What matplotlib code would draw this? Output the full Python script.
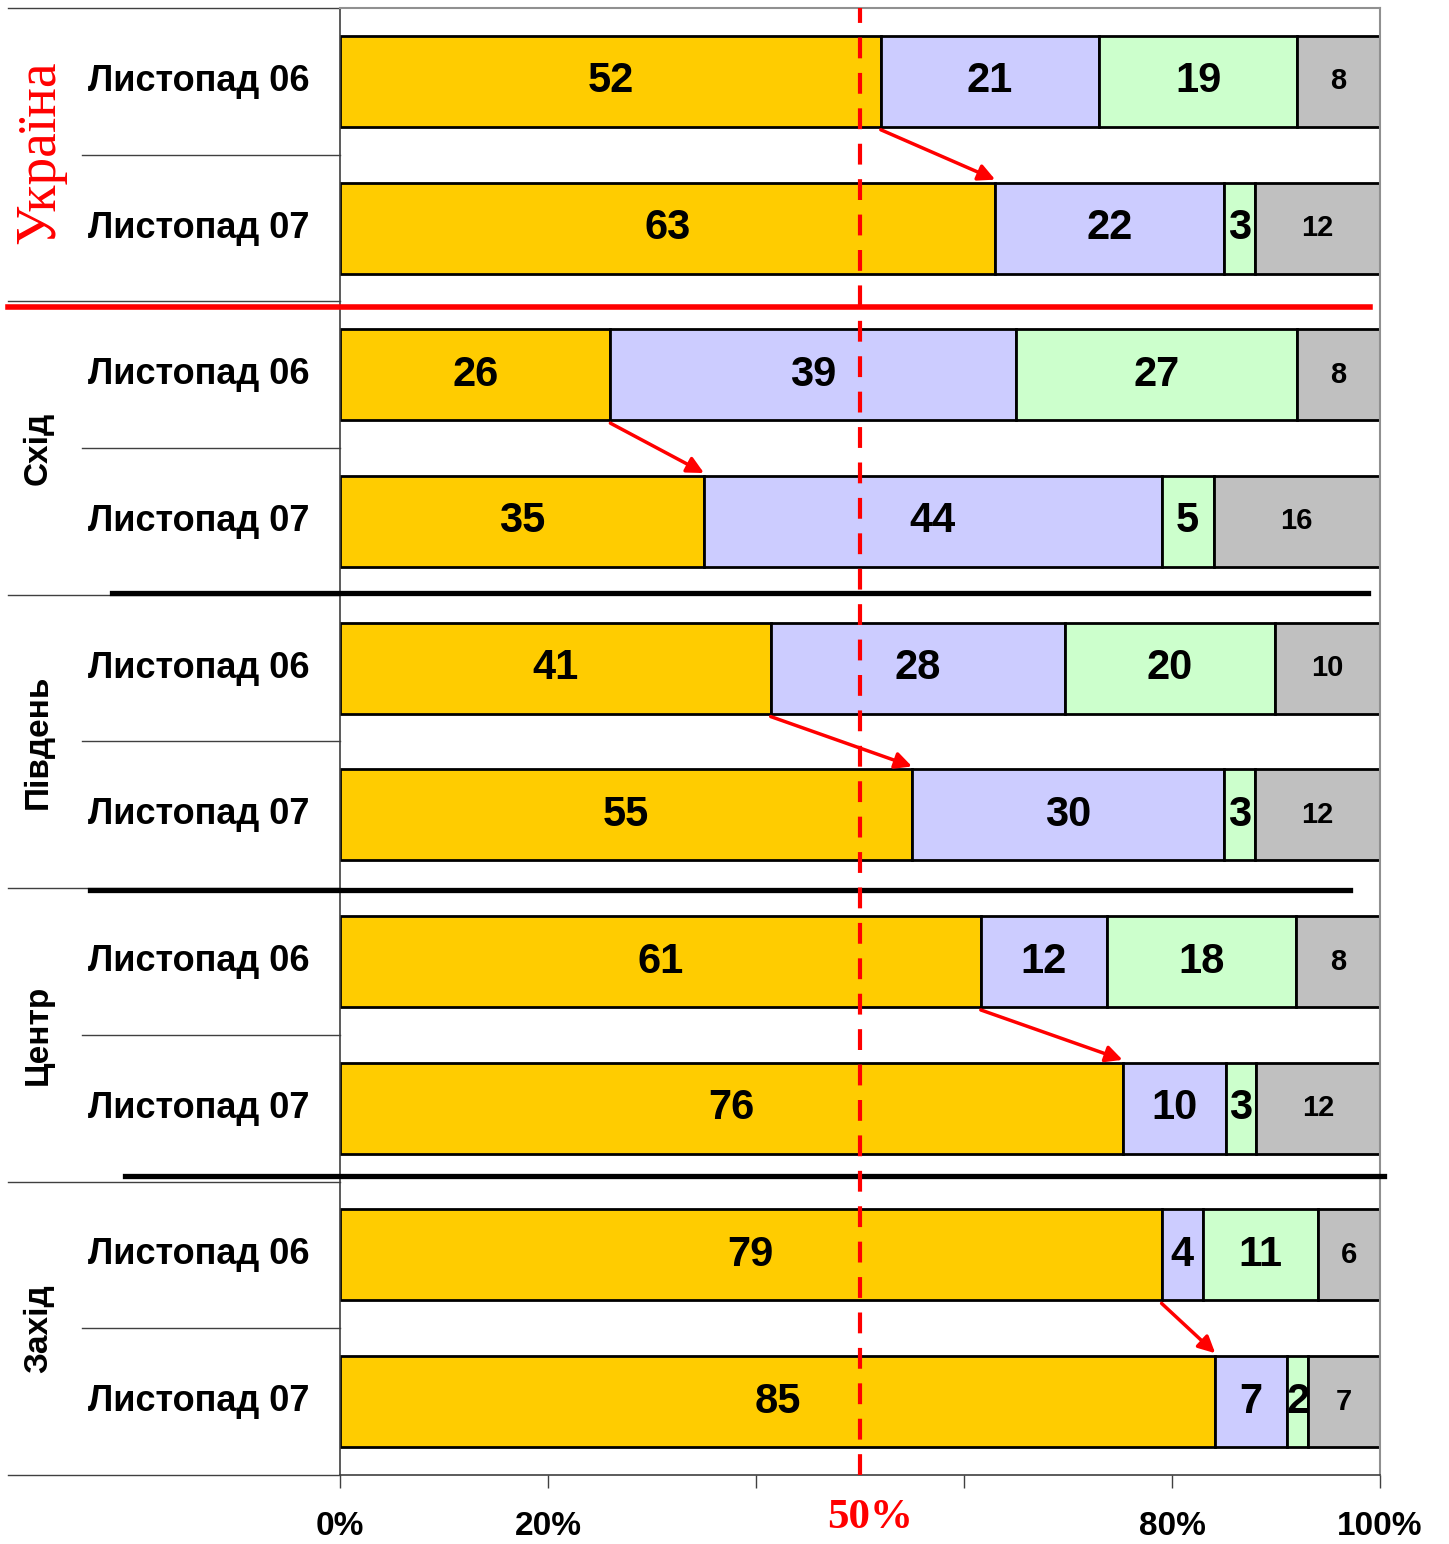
import numpy as np
import matplotlib.pyplot as plt
from matplotlib.transforms import blended_transform_factory

regions = ['Україна', 'Схід', 'Південь', 'Центр', 'Захід']
periods = ['Листопад 06', 'Листопад 07']

yellow = [52, 63, 26, 35, 41, 55, 61, 76, 79, 85]
lilac = [21, 22, 39, 44, 28, 30, 12, 10, 4, 7]
green = [19, 3, 27, 5, 20, 3, 18, 3, 11, 2]
grey = [8, 12, 8, 16, 10, 12, 8, 12, 6, 7]

tick_vals = [0, 20, 40, 60, 80, 100]
tick_text = ['0%', '20%', '', '', '80%', '100%']

colors = ['#FFCC00', '#CCCCFF', '#CCFFCC', '#C0C0C0']
SANS = 'Liberation Sans'
SERIF = 'Liberation Serif'

if __name__ == '__main__':
    W, H = 1449, 1544
    fig = plt.figure(figsize=(W / 100, H / 100), dpi=100)
    ax = fig.add_axes([340 / W, 1 - 1475 / H, 1040 / W, 1467 / H])

    data = np.array([yellow, lilac, green, grey], dtype=float)
    pct = data / data.sum(axis=0) * 100
    n = data.shape[1]
    y = np.arange(n)
    left = np.zeros(n)
    bh = 0.62

    for k in range(4):
        ax.barh(y, pct[k], left=left, height=bh, color=colors[k],
                edgecolor='black', linewidth=2, zorder=2)
        for i in range(n):
            size = 21 if k == 3 else 30
            ax.text(left[i] + pct[k][i] / 2, y[i], '%d' % data[k][i],
                    ha='center', va='center', fontsize=size,
                    fontweight='bold', family=SANS, zorder=4)
        left += pct[k]

    ax.set_xlim(0, 100)
    ax.set_ylim(n - 0.5, -0.5)
    ax.set_yticks([])
    ax.set_xticks(tick_vals)
    ax.set_xticklabels(tick_text, fontsize=24, fontweight='bold', family=SANS)
    ax.tick_params(axis='x', length=9, width=1, pad=17, color='#404040')
    for s in ['top', 'right']:
        ax.spines[s].set_color('#909090')
        ax.spines[s].set_linewidth(1.5)
    for s in ['left', 'bottom']:
        ax.spines[s].set_color('#404040')
        ax.spines[s].set_linewidth(1.2)

    tr = blended_transform_factory(ax.transAxes, ax.transData)

    # category axis lines on the left
    for b in np.arange(-0.5, n, 1.0):
        idx = int(b + 0.5)
        x0 = -0.319 if idx % 2 == 0 else -0.248
        ax.plot([x0, 0], [b, b], color='#404040', lw=1, transform=tr,
                clip_on=False, zorder=1)

    for i in range(n):
        ax.text(-0.242, y[i], periods[i % 2], transform=tr, ha='left',
                va='center', fontsize=26, fontweight='bold', family=SANS)

    for g, name in enumerate(regions):
        yc = 2 * g + 0.5
        if g == 0:
            ax.text(-0.288, yc - 0.02, name, transform=tr, rotation=90,
                    ha='center', va='center', fontsize=40, color='red',
                    family=SERIF)
        else:
            ax.text(-0.290, yc, name, transform=tr, rotation=90,
                    ha='center', va='center', fontsize=24,
                    fontweight='bold', family=SANS)

    # group separators
    ax.plot([-0.319, 0.990], [1.535, 1.535], color='red', lw=4,
            transform=tr, clip_on=False, zorder=3)
    seps = [(-0.219, 0.988, 3.49), (-0.240, 0.971, 5.51), (-0.207, 1.004, 7.46)]
    for xa, xb, yy in seps:
        ax.plot([xa, xb], [yy, yy], color='black', lw=3.8,
                transform=tr, clip_on=False, zorder=3)

    # 50% reference line
    ax.axvline(50, color='red', lw=3, linestyle=(0, (5, 3.5)), zorder=5)
    fig.text(870 / W, 1 - 1518 / H, '50%', ha='center', va='center',
             fontsize=31, color='red', family=SERIF, fontweight='bold')

    # arrows from 06 to 07
    for g in range(5):
        i0, i1 = 2 * g, 2 * g + 1
        ax.annotate('', xy=(pct[0][i1], i1 - bh / 2 - 0.02),
                    xytext=(pct[0][i0], i0 + bh / 2 + 0.02),
                    arrowprops=dict(arrowstyle='-|>', color='red', lw=2.5,
                                    mutation_scale=25, shrinkA=0, shrinkB=0),
                    zorder=6)

    fig.savefig('out.png', dpi=100)
